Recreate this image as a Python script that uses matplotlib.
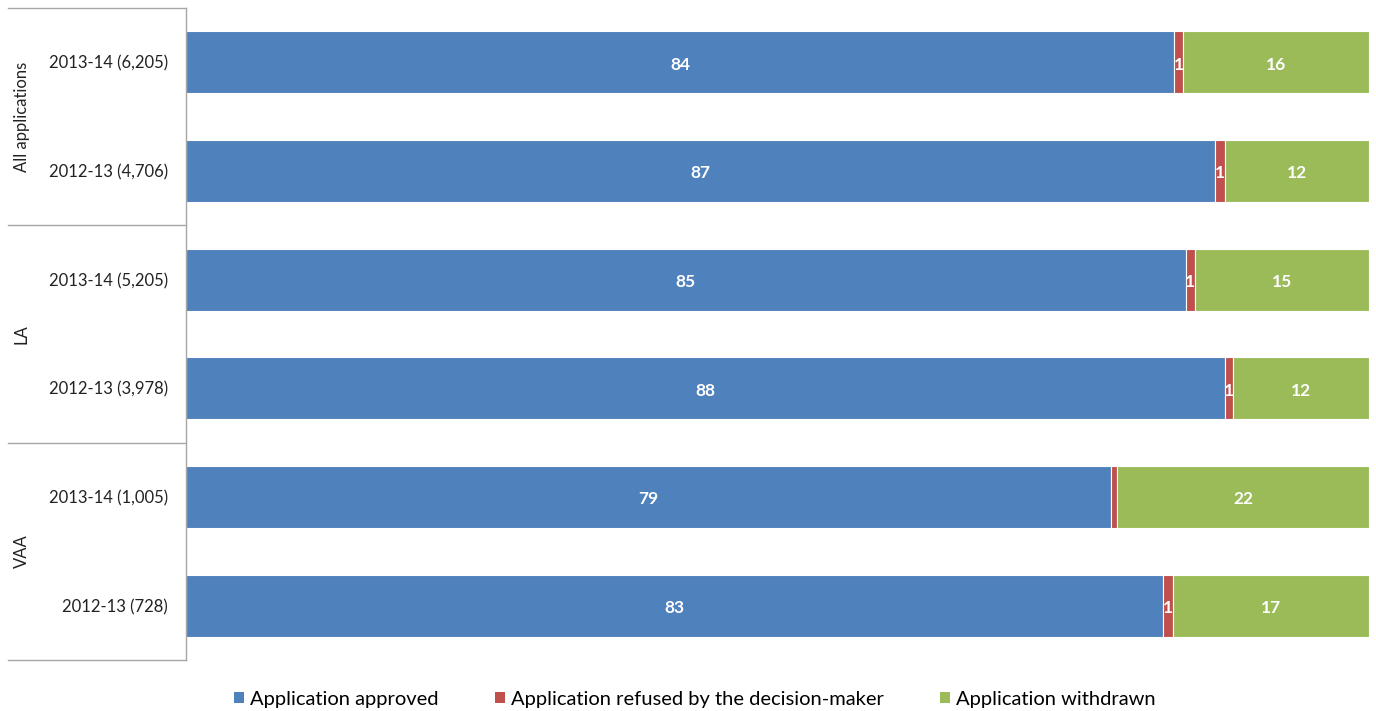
import matplotlib
matplotlib.use("Agg")
import matplotlib.pyplot as plt
import numpy as np

plt.rcParams['font.family'] = ['Lato', 'DejaVu Sans']

groups = ["All applications", "LA", "VAA"]
categories = ["2013-14 (6,205)", "2012-13 (4,706)",
              "2013-14 (5,205)", "2012-13 (3,978)",
              "2013-14 (1,005)", "2012-13 (728)"]
series_names = ["Application approved", "Application refused by the decision-maker",
                "Application withdrawn"]
approved = [83.5, 87.0, 84.5, 87.8, 78.2, 82.6]
refused = [0.8, 0.8, 0.8, 0.7, 0.5, 0.8]
withdrawn = [15.7, 12.2, 14.7, 11.5, 21.3, 16.6]
approved_labels = ["84", "87", "85", "88", "79", "83"]
refused_labels = ["1", "1", "1", "1", "", "1"]
withdrawn_labels = ["16", "12", "15", "12", "22", "17"]
colors = ["#4F81BD", "#C0504D", "#9BBB59"]

W, H = 1376, 711
fig = plt.figure(figsize=(W / 100, H / 100), dpi=100)
ax = fig.add_axes([186 / W, 1 - 660 / H, 1183 / W, 652 / H])

n = len(categories)
y = np.arange(n)
vals = [np.array(approved), np.array(refused), np.array(withdrawn)]
labels = [approved_labels, refused_labels, withdrawn_labels]
left = np.zeros(n)
for v, lab, c, name in zip(vals, labels, colors, series_names):
    bars = ax.barh(y, v, left=left, height=0.57, color=c, edgecolor="white",
                   linewidth=0.8, label=name)
    for i, b in enumerate(bars):
        if lab[i]:
            ax.text(left[i] + v[i] / 2, y[i] + 0.02, lab[i], ha="center", va="center",
                    color="white", fontsize=12.5, fontweight="bold")
    left = left + v

ax.set_xlim(0, 100)
ax.set_ylim(n - 0.5, -0.5)
ax.set_xticks([])
ax.set_yticks(y)
ax.set_yticklabels(categories, fontsize=12, color="#222222")
ax.tick_params(axis="y", length=0, pad=13)
for s in ["top", "right", "bottom"]:
    ax.spines[s].set_visible(False)
ax.spines["left"].set_color("#A6A6A6")
ax.spines["left"].set_linewidth(1.0)

# hierarchical group labels and separators
xl = (8 - 186) / 1183
tr = ax.get_yaxis_transform()
bounds = [-0.5, 1.5, 3.5, 5.5]
for b in bounds:
    ax.plot([xl, 0], [b, b], transform=tr, color="#A6A6A6", lw=1.0, clip_on=False)
xg = (22 - 186) / 1183
for gi, g in enumerate(groups):
    ax.text(xg, 2 * gi + 0.5, g, transform=tr, rotation=90, ha="center",
            va="center", fontsize=12, color="#222222")

handles, lbls = ax.get_legend_handles_labels()
leg = fig.legend(handles, lbls, loc="center", bbox_to_anchor=(0.505, 1 - 699 / H),
                 ncol=3, frameon=False, fontsize=14.5, handlelength=0.5,
                 handleheight=0.5, handletextpad=0.3, columnspacing=2.8)
for h in leg.legend_handles:
    h.set_edgecolor("none")

fig.savefig("out.png", dpi=100, facecolor="white")
